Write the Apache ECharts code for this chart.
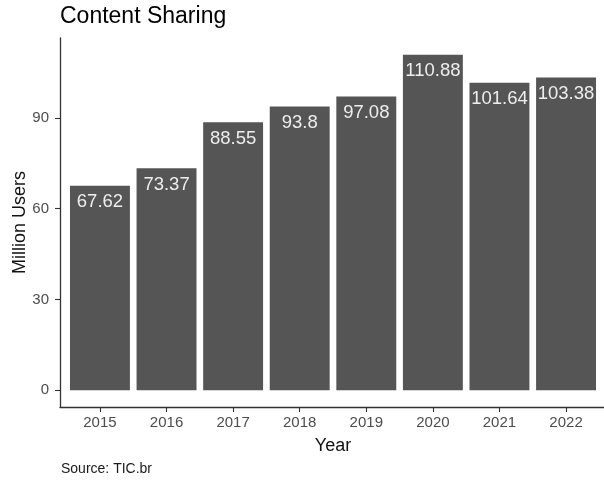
<!DOCTYPE html>
<html>
<head>
<meta charset="utf-8">
<script src="https://cdn.jsdelivr.net/npm/echarts@6/dist/echarts.min.js"></script>
<style>
  html, body { margin: 0; padding: 0; background: #ffffff; }
  #chart { width: 604px; height: 482px; }
</style>
</head>
<body>
<div id="chart"></div>
<script>
// Internet users sharing content, in millions (TIC Domicílios)
const years = ['2015', '2016', '2017', '2018', '2019', '2020', '2021', '2022'];
const users = [67.62, 73.37, 88.55, 93.8, 97.08, 110.88, 101.64, 103.38];
const yTicks = [0, 30, 60, 90];

// Bars sit at positions 1..n on a numeric x scale, padded like a discrete axis
const xPositions = years.map((_, i) => i + 1);
const barData = users.map((v, i) => [xPositions[i], v]);

// 5% padding on both ends of the value range
const yMaxData = Math.max(...users);
const yPad = yMaxData * 0.05;

const font = '"Liberation Sans", Arial, sans-serif';
const axisColor = '#333333';

const chart = echarts.init(document.getElementById('chart'), null, { renderer: 'canvas' });
chart.setOption({
  animation: false,
  backgroundColor: '#ffffff',
  title: [
    {
      text: 'Content Sharing',
      left: 60, top: 5, padding: 0,
      textStyle: { fontFamily: font, fontSize: 23, fontWeight: 'normal', color: '#000000' }
    },
    {
      text: 'Source: TIC.br',
      left: 61, top: 462, padding: 0,
      textStyle: { fontFamily: font, fontSize: 14, fontWeight: 'normal', color: '#1a1a1a' }
    }
  ],
  grid: { left: 60, right: -2, top: 38, bottom: 75, containLabel: false, outerBoundsMode: 'none' },
  xAxis: {
    type: 'value',
    min: 0.4,
    max: xPositions.length + 0.6,
    name: 'Year',
    nameLocation: 'middle',
    nameGap: 30,
    nameMoveOverlap: false,
    nameTextStyle: { fontFamily: font, fontSize: 18, color: '#111111' },
    splitLine: { show: false },
    axisLine: { show: true, onZero: false, lineStyle: { color: axisColor, width: 1.3 } },
    axisTick: { show: true, length: 5, customValues: xPositions, lineStyle: { color: axisColor, width: 1.1 } },
    axisLabel: {
      customValues: xPositions,
      margin: 8,
      fontFamily: font, fontSize: 15, color: '#4d4d4d',
      formatter: v => years[Math.round(v) - 1]
    }
  },
  yAxis: {
    type: 'value',
    min: -yPad,
    max: yMaxData + yPad,
    name: 'Million Users',
    nameLocation: 'middle',
    nameGap: 31,
    nameMoveOverlap: false,
    nameTextStyle: { fontFamily: font, fontSize: 18, color: '#111111' },
    splitLine: { show: false },
    axisLine: { show: true, onZero: false, lineStyle: { color: axisColor, width: 1.3 } },
    axisTick: { show: true, length: 5, customValues: yTicks, lineStyle: { color: axisColor, width: 1.1 } },
    axisLabel: {
      customValues: yTicks,
      margin: 11,
      fontFamily: font, fontSize: 15, color: '#4d4d4d'
    }
  },
  series: [{
    type: 'bar',
    data: barData,
    barWidth: '90%',
    itemStyle: { color: '#555555' },
    label: {
      show: true,
      position: 'insideTop',
      distance: 7,
      fontFamily: font,
      fontSize: 18.5,
      color: '#eeeeee',
      formatter: p => String(p.value[1])
    }
  }]
});
</script>
</body>
</html>
